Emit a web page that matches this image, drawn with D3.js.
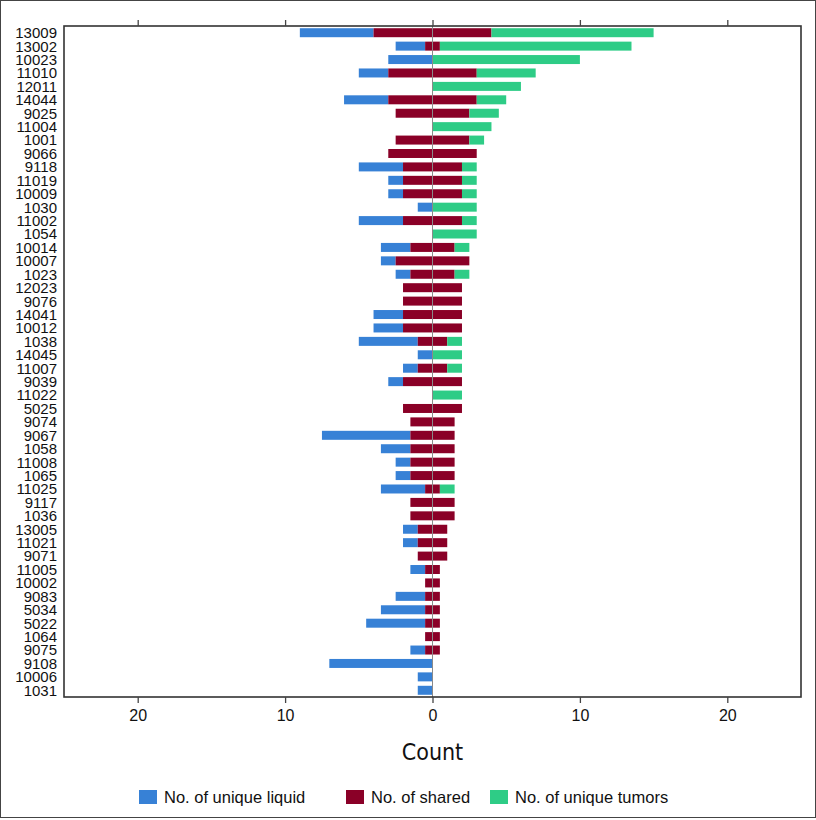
<!DOCTYPE html>
<html>
<head>
<meta charset="utf-8">
<script src="https://cdn.jsdelivr.net/npm/d3@7"></script>
<style>
  html, body { margin: 0; padding: 0; background: #fff; }
  svg { display: block; }
</style>
</head>
<body>
<svg id="chart" width="816" height="820"></svg>
<script>
const categories = ["13009","13002","10023","11010","12011","14044","9025","11004","1001","9066",
  "9118","11019","10009","1030","11002","1054","10014","10007","1023","12023",
  "9076","14041","10012","1038","14045","11007","9039","11022","5025","9074",
  "9067","1058","11008","1065","11025","9117","1036","13005","11021","9071",
  "11005","10002","9083","5034","5022","1064","9075","9108","10006","1031"];
const uniqueLiquid = [5,2,3,2,0,3,0,0,0,0, 3,1,1,1,3,0,2,1,1,0, 0,2,2,4,1,1,1,0,0,0, 6,2,1,1,3,0,0,1,1,0, 1,0,2,3,4,0,1,7,1,1];
const shared       = [8,1,0,6,0,6,5,0,5,6, 4,4,4,0,4,0,3,5,3,4, 4,4,4,2,0,2,4,0,4,3, 3,3,3,3,1,3,3,2,2,2, 1,1,1,1,1,1,1,0,0,0];
const uniqueTumors = [11,13,10,4,6,2,2,4,1,0, 1,1,1,3,1,3,1,0,1,0, 0,0,0,1,2,1,0,2,0,0, 0,0,0,0,1,0,0,0,0,0, 0,0,0,0,0,0,0,0,0,0];
const xTicks = [-20,-10,0,10,20];
const seriesNames = ["No. of unique liquid","No. of shared","No. of unique tumors"];
const seriesColors = ["#3781d6","#8a0027","#2ecc86"];

(function(){
const svg = d3.select("#chart");
const pL = 64, pR = 801, pT = 26, pB = 697;

const x = d3.scaleLinear().domain([-25, 25]).range([pL, pR]);
const y = d3.scaleBand().domain(categories).range([pT, pB]).paddingInner(0.33).paddingOuter(0.165);

// outer border
svg.append("rect").attr("x",0.5).attr("y",0.5).attr("width",815).attr("height",817)
  .attr("fill","none").attr("stroke","#444").attr("stroke-width",1);

const rows = categories.map((c,i)=>({c, L:uniqueLiquid[i], S:shared[i], T:uniqueTumors[i]}));

const segs = [];
rows.forEach(r=>{
  const h = r.S/2;
  if (r.L>0) segs.push({c:r.c, x0:-h-r.L, x1:-h, k:0});
  if (r.S>0) segs.push({c:r.c, x0:-h, x1:h, k:1});
  if (r.T>0) segs.push({c:r.c, x0:h, x1:h+r.T, k:2});
});

svg.append("g").selectAll("rect").data(segs).join("rect")
  .attr("x", d=>x(d.x0))
  .attr("width", d=>x(d.x1)-x(d.x0))
  .attr("y", d=>y(d.c))
  .attr("height", y.bandwidth())
  .attr("fill", d=>seriesColors[d.k]);

// zero line
svg.append("line").attr("x1",x(0)).attr("x2",x(0)).attr("y1",pT).attr("y2",pB)
  .attr("stroke","#8a8a8a").attr("stroke-width",1);

// frame
svg.append("rect").attr("x",pL).attr("y",pT).attr("width",pR-pL).attr("height",pB-pT)
  .attr("fill","none").attr("stroke","#333").attr("stroke-width",1.6);

// bottom axis
const ax = svg.append("g").attr("transform",`translate(0,${pB})`)
  .call(d3.axisBottom(x).tickValues(xTicks).tickFormat(d=>Math.abs(d)).tickSize(6).tickPadding(7));
ax.select(".domain").remove();
ax.selectAll("line").attr("stroke","#444").attr("stroke-width",1.3);
ax.selectAll("text").attr("font-family","'Liberation Sans', Arial, sans-serif").attr("font-size",16).attr("fill","#111");

// top ticks
const axT = svg.append("g").attr("transform",`translate(0,${pT})`)
  .call(d3.axisTop(x).tickValues(xTicks).tickFormat("").tickSize(6));
axT.select(".domain").remove();
axT.selectAll("line").attr("stroke","#444").attr("stroke-width",1.3);

// y labels
svg.append("g").selectAll("text").data(categories).join("text")
  .attr("x", 57)
  .attr("y", d=>y(d)+y.bandwidth()/2)
  .attr("dy","0.36em")
  .attr("text-anchor","end")
  .attr("font-family","'Liberation Sans', Arial, sans-serif")
  .attr("font-size",15)
  .attr("fill","#111")
  .text(d=>d);

// axis title
svg.append("text").attr("x", x(0)).attr("y", 760).attr("text-anchor","middle")
  .attr("font-family","'Liberation Sans Narrow', 'DejaVu Sans Condensed', Arial, sans-serif")
  .attr("font-size",23).attr("fill","#111").text("Count");

// legend
const legX = [139, 346, 490];
const lg = svg.append("g");
seriesNames.forEach((n,i)=>{
  lg.append("rect").attr("x",legX[i]).attr("y",790).attr("width",18).attr("height",14).attr("fill",seriesColors[i]);
  lg.append("text").attr("x",legX[i]+25).attr("y",803)
    .attr("font-family","'Liberation Sans', Arial, sans-serif").attr("font-size",16.5).attr("fill","#111").text(n);
});
})();
</script>
</body>
</html>
